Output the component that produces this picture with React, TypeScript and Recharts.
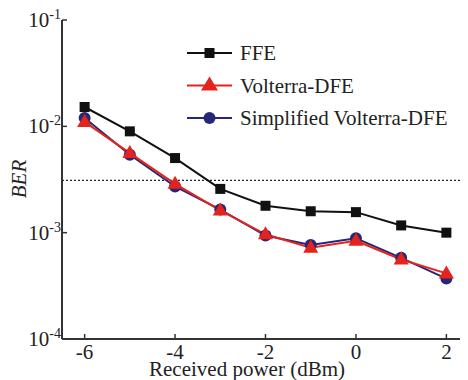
import React from 'react';
import { LineChart, Line, XAxis, YAxis, ReferenceLine, Legend } from 'recharts';

const power = [-6, -5, -4, -3, -2, -1, 0, 1, 2];
const ffe = [1.52e-2, 8.97e-3, 5.03e-3, 2.58e-3, 1.79e-3, 1.59e-3, 1.56e-3, 1.17e-3, 1.0e-3];
const volterraDfe = [1.1e-2, 5.6e-3, 2.88e-3, 1.62e-3, 9.66e-4, 7.2e-4, 8.4e-4, 5.6e-4, 4.14e-4];
const simplifiedDfe = [1.2e-2, 5.4e-3, 2.72e-3, 1.65e-3, 9.4e-4, 7.65e-4, 8.85e-4, 5.8e-4, 3.7e-4];
const xTicks = [-6, -4, -2, 0, 2];
const yTicks = [1e-4, 1e-3, 1e-2, 1e-1];
const threshold = 3.1e-3;

const data = power.map((p, i) => ({
  x: p,
  ffe: ffe[i],
  vdfe: volterraDfe[i],
  sdfe: simplifiedDfe[i],
}));

const RED = '#e3231c';
const NAVY = '#272779';
const AXIS = '#333';
const FONT = '"Liberation Serif", "Times New Roman", serif';

const Square = (props: any) => {
  const { cx, cy } = props;
  if (cx == null || cy == null) return null;
  return <rect x={cx - 5} y={cy - 5} width={10} height={10} fill="#111" />;
};

const Triangle = (props: any) => {
  const { cx, cy } = props;
  if (cx == null || cy == null) return null;
  return <polygon points={`${cx},${cy - 8} ${cx - 7.5},${cy + 5} ${cx + 7.5},${cy + 5}`} fill={RED} />;
};

const Circle = (props: any) => {
  const { cx, cy } = props;
  if (cx == null || cy == null) return null;
  return <circle cx={cx} cy={cy} r={6} fill={NAVY} />;
};

const BottomTick = (props: any) => {
  const { x, y, payload } = props;
  const v = payload.value;
  return (
    <g>
      <line x1={x} x2={x} y1={y} y2={y - 5} stroke={AXIS} strokeWidth={1.5} />
      <text x={x} y={y + 20} textAnchor="middle" fontFamily={FONT} fontSize={21} fill="#222">
        {v < 0 ? '-' + Math.abs(v) : String(v)}
      </text>
    </g>
  );
};

const TopTick = (props: any) => {
  const { x, y } = props;
  return <line x1={x} x2={x} y1={y} y2={y + 5} stroke={AXIS} strokeWidth={1.5} />;
};

const LeftTick = (props: any) => {
  const { x, y, payload } = props;
  const exp = Math.round(Math.log10(payload.value));
  return (
    <g>
      <line x1={x} x2={x + 5} y1={y} y2={y} stroke={AXIS} strokeWidth={1.5} />
      <text x={x - 1} y={y + 7} textAnchor="end" fontFamily={FONT} fontSize={21} fill="#222">
        <tspan>10</tspan>
        <tspan dy={-8} fontSize={14}>{String(exp)}</tspan>
      </text>
    </g>
  );
};

const RightTick = (props: any) => {
  const { x, y } = props;
  return <line x1={x} x2={x - 5} y1={y} y2={y} stroke={AXIS} strokeWidth={1.5} />;
};

const legendRows = [
  { name: 'FFE', color: '#111', shape: 'square' },
  { name: 'Volterra-DFE', color: RED, shape: 'triangle' },
  { name: 'Simplified Volterra-DFE', color: NAVY, shape: 'circle' },
];

const renderLegend = () => (
  <svg width={290} height={100} style={{ display: 'block' }}>
    {legendRows.map((r, i) => {
      const cy = 16 + i * 32.5;
      return (
        <g key={r.name}>
          <line x1={0} x2={45} y1={cy} y2={cy} stroke={r.color} strokeWidth={2} />
          {r.shape === 'square' && <rect x={17.5} y={cy - 5} width={10} height={10} fill="#111" />}
          {r.shape === 'triangle' && (
            <polygon points={`22.5,${cy - 9} 14,${cy + 5} 31,${cy + 5}`} fill={RED} />
          )}
          {r.shape === 'circle' && <circle cx={22.5} cy={cy} r={6} fill={NAVY} />}
          <text x={53} y={cy + 7} fontFamily={FONT} fontSize={21} fill="#222">
            {r.name}
          </text>
        </g>
      );
    })}
  </svg>
);

export default function App() {
  return (
    <div style={{ width: 460, height: 372, overflow: 'hidden', background: '#fff' }}>
      <LineChart width={480} height={372} data={data} margin={{ top: 12, right: 19, left: 0, bottom: 0 }}>
        <XAxis
          dataKey="x"
          type="number"
          domain={[-6.5, 2.5]}
          ticks={xTicks}
          allowDataOverflow
          height={41}
          tickSize={0}
          tickMargin={0}
          tick={<BottomTick />}
          stroke={AXIS}
          strokeWidth={2}
          label={{
            content: () => (
              <text x={239} y={368} textAnchor="middle" fontFamily={FONT} fontSize={21} fill="#222">
                Received power (dBm)
              </text>
            ),
          }}
        />
        <XAxis
          xAxisId="top"
          orientation="top"
          dataKey="x"
          type="number"
          domain={[-6.5, 2.5]}
          ticks={xTicks}
          allowDataOverflow
          height={0}
          tickSize={0}
          tickMargin={0}
          tick={<TopTick />}
          stroke={AXIS}
          strokeWidth={2}
        />
        <YAxis
          scale="log"
          domain={[1e-4, 1e-1]}
          ticks={yTicks}
          allowDataOverflow
          width={54}
          tickSize={0}
          tickMargin={0}
          tick={<LeftTick />}
          stroke={AXIS}
          strokeWidth={2}
          label={{
            content: () => (
              <text
                x={18}
                y={171}
                textAnchor="middle"
                fontFamily={FONT}
                fontSize={21}
                fontStyle="italic"
                fill="#222"
                transform="rotate(-90, 18, 171)"
              >
                BER
              </text>
            ),
          }}
        />
        <YAxis
          yAxisId="right"
          orientation="right"
          scale="log"
          domain={[1e-4, 1e-1]}
          ticks={yTicks}
          allowDataOverflow
          width={0}
          tickSize={0}
          tickMargin={0}
          tick={<RightTick />}
          stroke={AXIS}
          strokeWidth={2}
        />
        <ReferenceLine y={threshold} stroke="#222" strokeDasharray="2 2" strokeWidth={1.2} />
        <Legend
          content={renderLegend}
          layout="horizontal"
          verticalAlign="middle"
          align="center"
          wrapperStyle={{ position: 'absolute', left: 179, top: 29, width: 290, height: 100 }}
        />
        <Line dataKey="ffe" stroke="#111" strokeWidth={2} dot={<Square />} isAnimationActive={false} />
        <Line dataKey="sdfe" stroke={NAVY} strokeWidth={2} dot={<Circle />} isAnimationActive={false} />
        <Line dataKey="vdfe" stroke={RED} strokeWidth={2} dot={<Triangle />} isAnimationActive={false} />
      </LineChart>
    </div>
  );
}
